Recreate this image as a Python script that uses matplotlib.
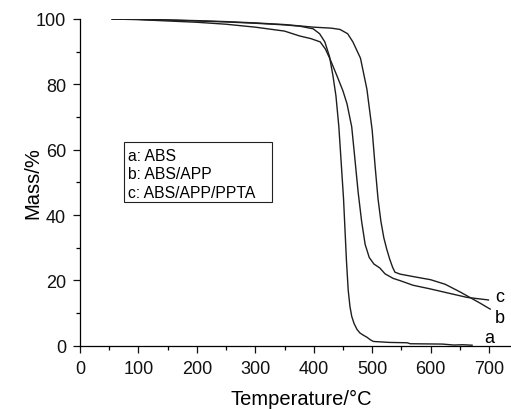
import matplotlib
matplotlib.use("Agg")
import matplotlib.pyplot as plt
from matplotlib.patches import Rectangle
from matplotlib.ticker import MultipleLocator

plt.rcParams['font.family'] = ['Liberation Sans', 'DejaVu Sans']

# Curve a: ABS
temp_a = [55, 100, 150, 200, 250, 300, 350, 376, 399, 410, 419, 427, 433, 438, 443, 451,
          456, 459, 462, 465, 469, 474, 479, 485, 491, 497, 502, 530, 560, 565, 620, 640, 655, 671]
mass_a = [100, 99.9, 99.7, 99.4, 99.1, 98.7, 98.2, 97.8, 97.0, 95.5, 93.0, 88.5, 82.5, 76.5, 67.0, 45.0,
          26.0, 17.0, 12.0, 9.0, 6.8, 5.0, 3.9, 3.2, 2.6, 1.8, 1.3, 1.0, 0.9, 0.6, 0.5, 0.2, 0.3, 0.15]

# Curve labelled c (ABS/APP/PPTA)
temp_c = [55, 100, 150, 200, 250, 300, 350, 376, 395, 411, 420, 428, 440, 450, 457, 465, 470,
          476, 482, 488, 495, 503, 513, 522, 536, 548, 570, 599, 628, 662, 699]
mass_c = [100, 99.8, 99.4, 99.0, 98.4, 97.5, 96.3, 94.8, 94.0, 93.0, 90.8, 87.7, 82.5, 78.0, 74.0, 67.0, 58.0,
          47.0, 38.0, 31.0, 27.0, 25.0, 23.8, 22.0, 20.6, 19.9, 18.5, 17.4, 16.2, 14.8, 14.0]

# Curve labelled b (ABS/APP)
temp_b = [55, 100, 150, 200, 250, 300, 350, 400, 430, 445, 458, 467, 480, 491, 500, 505,
          510, 515, 520, 525, 530, 535, 539, 548, 575, 600, 625, 650, 667, 685, 702]
mass_b = [100, 99.9, 99.7, 99.5, 99.2, 98.8, 98.3, 97.5, 97.2, 96.8, 95.5, 93.0, 88.0, 78.5, 66.0, 55.0,
          45.0, 38.0, 33.0, 29.5, 26.5, 24.0, 22.5, 21.9, 21.0, 20.2, 18.8, 16.5, 14.8, 13.0, 11.2]

legend_lines = ["a: ABS", "b: ABS/APP", "c: ABS/APP/PPTA"]
x_ticks = [0, 100, 200, 300, 400, 500, 600, 700]
y_ticks = [0, 20, 40, 60, 80, 100]

W, H = 511, 410
fig = plt.figure(figsize=(W / 100, H / 100), dpi=100)
ax = fig.add_axes([80 / W, (H - 346.7) / H, (W - 80) / W, (346.7 - 20) / H])

lc = '#1e1e1e'
for t, m in [(temp_a, mass_a), (temp_b, mass_b), (temp_c, mass_c)]:
    ax.plot(t, m, color=lc, lw=1.0)

ax.set_xlim(0, 737.6)
ax.set_ylim(0, 100)
ax.spines['top'].set_visible(False)
ax.spines['right'].set_visible(False)
for s in ['left', 'bottom']:
    ax.spines[s].set_linewidth(0.9)
ax.set_xticks(x_ticks)
ax.set_yticks(y_ticks)
ax.xaxis.set_minor_locator(MultipleLocator(50))
ax.yaxis.set_minor_locator(MultipleLocator(10))
ax.tick_params(which='major', direction='out', length=5, width=0.9, labelsize=13, pad=5, colors='#111111')
ax.tick_params(which='minor', direction='out', length=3, width=0.9)

# End labels
ax.text(710, 13.7, 'c', fontsize=13, ha='left', va='baseline')
ax.text(710, 7.25, 'b', fontsize=13, ha='left', va='baseline')
ax.text(691, 1.1, 'a', fontsize=13, ha='left', va='baseline')

# Axis labels
fig.text(301 / W, 5 / H, 'Temperature/°C', fontsize=14.5, ha='center', va='baseline')
fig.text(33 / W, 1 - 183 / H, 'Mass/%', fontsize=14.5, ha='center', va='center', rotation=90)

# Legend box
bx0, by0, bx1, by1 = 124, 143, 272, 203
fig.patches.append(Rectangle((bx0 / W, 1 - by1 / H), (bx1 - bx0) / W, (by1 - by0) / H,
                             transform=fig.transFigure, fill=False, lw=0.8, ec='#222222'))
for i, txt in enumerate(legend_lines):
    fig.text(128 / W, 1 - (161 + i * 18.5) / H, txt, fontsize=11.3, ha='left', va='baseline')

fig.savefig('out.png', dpi=100)
